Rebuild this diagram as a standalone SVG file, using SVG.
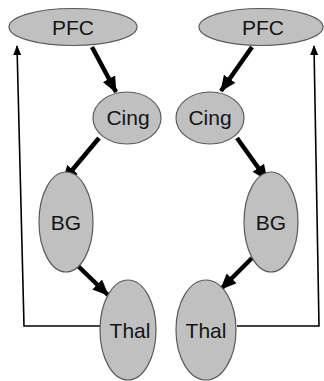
<svg xmlns="http://www.w3.org/2000/svg" width="324" height="381" viewBox="0 0 324 381">
<style>
.n ellipse{fill:#c0c0c0;stroke:#5a5a5a;stroke-width:1.2}
.n text{font-family:"Liberation Sans",Arial,sans-serif;font-size:21px;fill:#141414;text-anchor:middle}
.thick{stroke:#000;stroke-width:4.5;fill:none;marker-end:url(#big)}
.thin{stroke:#000;stroke-width:1.6;fill:none;marker-end:url(#small)}
</style>
<defs>
<marker id="big" markerUnits="userSpaceOnUse" markerWidth="16" markerHeight="14" refX="15" refY="7" orient="auto">
<path d="M0,0 L16,7 L0,14 Z" fill="#000"/>
</marker>
<marker id="small" markerUnits="userSpaceOnUse" markerWidth="10" markerHeight="8" refX="9" refY="4" orient="auto">
<path d="M0,0 L10,4 L0,8 Z" fill="#000"/>
</marker>
</defs>
<rect width="324" height="381" fill="#fff"/>
<g id="connectors">
<line class="thick" x1="92" y1="47" x2="116" y2="92"/>
<line class="thick" x1="99" y1="138" x2="63" y2="181"/>
<line class="thick" x1="78" y1="266" x2="108" y2="295"/>
<polyline class="thin" points="100,326 24,326 17,46"/>
<line class="thick" x1="252" y1="47" x2="221" y2="91"/>
<line class="thick" x1="237" y1="138" x2="267" y2="180"/>
<line class="thick" x1="252" y1="258" x2="221" y2="289"/>
<polyline class="thin" points="237,326 319,326 314,46"/>
</g>
<g id="pfc-left" class="n"><ellipse cx="73" cy="27" rx="64" ry="18.5"/><text x="73" y="35">PFC</text></g>
<g id="cing-left" class="n"><ellipse cx="127" cy="118" rx="34" ry="26"/><text x="128" y="125">Cing</text></g>
<g id="bg-left" class="n"><ellipse cx="66" cy="222" rx="27" ry="50"/><text x="66" y="230">BG</text></g>
<g id="thal-left" class="n"><ellipse cx="128" cy="330" rx="28" ry="50"/><text x="130" y="338">Thal</text></g>
<g id="pfc-right" class="n"><ellipse cx="261" cy="27" rx="62" ry="18.5"/><text x="263" y="35">PFC</text></g>
<g id="cing-right" class="n"><ellipse cx="210" cy="118" rx="34" ry="26"/><text x="210" y="125">Cing</text></g>
<g id="bg-right" class="n"><ellipse cx="271" cy="222" rx="27" ry="50"/><text x="271" y="230">BG</text></g>
<g id="thal-right" class="n"><ellipse cx="206" cy="330" rx="30" ry="50"/><text x="206" y="338">Thal</text></g>
</svg>
